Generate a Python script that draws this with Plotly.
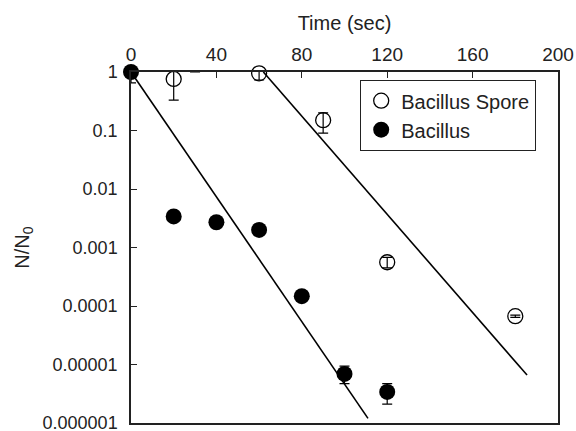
import plotly.graph_objects as go

# Data
spore_t = [20, 60, 90, 120, 180]
spore_n = [0.76, 0.95, 0.15, 0.00056, 0.000067]
spore_err_plus = [0.41, 0.25, 0.05, 0.00012, 0.000003]
spore_err_minus = [0.43, 0.22, 0.06, 0.00011, 0.000003]

spore_hidden_t = [30]
spore_hidden_n = [1.0]
spore_hidden_err_plus = [0.12]
spore_hidden_err_minus = [0.0]

bac_t = [0, 20, 40, 60, 80, 100, 120]
bac_n = [1.0, 0.0034, 0.0027, 0.002, 0.000147, 0.0000069, 0.0000034]
bac_err_plus = [0.4, 0, 0, 0, 0, 0.0000025, 0.0000013]
bac_err_minus = [0.35, 0, 0, 0, 0, 0.0000022, 0.0000013]

bac_fit_t = [0, 111]
bac_fit_n = [1.0, 0.0000012]
spore_fit_t = [62, 185.5]
spore_fit_n = [1.0, 0.0000066]

x_ticks = [0, 40, 80, 120, 160, 200]
y_ticks = [1, 0.1, 0.01, 0.001, 0.0001, 0.00001, 0.000001]
y_ticktext = ["1", "0.1", "0.01", "0.001", "0.0001", "0.00001", "0.000001"]

FONT = "Liberation Sans, Arial, sans-serif"
INK = "#222"

fig = go.Figure()

fig.add_trace(go.Scatter(x=bac_fit_t, y=bac_fit_n, mode="lines",
                         line=dict(color="black", width=1.6), showlegend=False,
                         cliponaxis=False))
fig.add_trace(go.Scatter(x=spore_fit_t, y=spore_fit_n, mode="lines",
                         line=dict(color="black", width=1.6), showlegend=False,
                         cliponaxis=False))

fig.add_trace(go.Scatter(
    x=spore_hidden_t, y=spore_hidden_n, mode="markers",
    marker=dict(size=1, color="rgba(0,0,0,0)"),
    error_y=dict(type="data", symmetric=False, array=spore_hidden_err_plus,
                 arrayminus=spore_hidden_err_minus, color="black", thickness=1.2, width=5),
    showlegend=False, cliponaxis=False))

fig.add_trace(go.Scatter(
    x=spore_t, y=spore_n, mode="markers", name="Bacillus Spore",
    marker=dict(symbol="circle-open", size=15, color="black", line=dict(width=1.3)),
    error_y=dict(type="data", symmetric=False, array=spore_err_plus,
                 arrayminus=spore_err_minus, color="black", thickness=1.2, width=5),
    cliponaxis=False))

fig.add_trace(go.Scatter(
    x=bac_t, y=bac_n, mode="markers", name="Bacillus",
    marker=dict(symbol="circle", size=16, color="black"),
    error_y=dict(type="data", symmetric=False, array=bac_err_plus,
                 arrayminus=bac_err_minus, color="black", thickness=1.2, width=5),
    cliponaxis=False))

fig.update_layout(
    width=576, height=431,
    margin=dict(l=131, r=18, t=72, b=8, autoexpand=False),
    paper_bgcolor="white", plot_bgcolor="white",
    font=dict(family=FONT, size=19, color=INK),
    showlegend=True,
    legend=dict(x=(360 - 131) / 427, y=(423 - 80) / 351, xanchor="left", yanchor="top",
                bordercolor=INK, borderwidth=1.2, bgcolor="white",
                font=dict(size=20), tracegroupgap=0, itemwidth=30),
)

fig.update_xaxes(
    side="top", range=[0, 200], tickvals=x_ticks, ticks="inside", ticklen=6,
    tickwidth=1.2, tickcolor=INK, showline=True, linecolor=INK, linewidth=1.5,
    mirror=True, showgrid=False, zeroline=False, automargin=False,
    title=dict(text="Time (sec)", font=dict(size=20), standoff=8),
    tickfont=dict(size=19), ticklabelstandoff=2, ticklabeloverflow="allow",
)
fig.update_yaxes(
    type="log", range=[-6, 0], tickvals=y_ticks, ticktext=y_ticktext,
    ticks="inside", ticklen=6, tickwidth=1.2, tickcolor=INK,
    showline=True, linecolor=INK, linewidth=1.5, mirror=True,
    showgrid=False, zeroline=False, automargin=False, ticklabelstandoff=8,
    title=dict(text="N/N<sub>0</sub>", font=dict(size=20), standoff=8),
    tickfont=dict(size=18), ticklabeloverflow="allow",
)

fig.write_html(
    "out.html",
    config={"displayModeBar": False},
    post_script="document.body.style.margin='0';document.body.style.overflow='hidden';",
)
